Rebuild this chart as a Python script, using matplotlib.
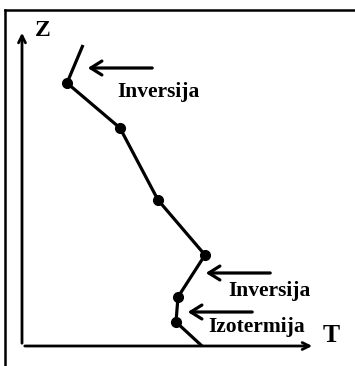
import matplotlib
matplotlib.use("Agg")
import matplotlib.pyplot as plt
from matplotlib.lines import Line2D

# temperature profile T(Z), arbitrary units (origin at axis corner)
temp = [18.0, 15.4, 15.6, 18.3, 13.6, 9.8, 4.5, 6.1]
height = [0.0, 2.4, 4.9, 9.1, 14.6, 21.8, 26.3, 30.1]

# labelled layers: (text, arrow tail, arrow tip, text position)
labels = ["Inversija", "Inversija", "Izotermija"]
arrow_tail = [(13.3, 27.8), (25.1, 7.3), (23.3, 3.4)]
arrow_tip = [(6.3, 27.8), (18.1, 7.3), (16.3, 3.4)]
text_pos = [(9.5, 25.4), (20.6, 5.5), (18.6, 1.9)]

fig = plt.figure(figsize=(3.55, 3.66), dpi=100)
ax = fig.add_axes([0, 0, 1, 1])
ax.set_xlim(-2.2, 33.3)
ax.set_ylim(-2.0, 34.6)
ax.axis("off")

font = dict(family="Liberation Serif", fontweight="bold", color="black")

# frame (top and left edges only)
fig.add_artist(Line2D([5 / 355, 1], [1 - 10 / 366, 1 - 10 / 366],
                      transform=fig.transFigure, color="black", lw=1.8))
fig.add_artist(Line2D([5 / 355, 5 / 355], [0, 1 - 10 / 366],
                      transform=fig.transFigure, color="black", lw=1.8))

# axes with arrows
arrow_kw = dict(arrowstyle="->,head_length=0.5,head_width=0.25", color="black", lw=2)
ax.annotate("", xy=(0, 31.6), xytext=(0, 0), arrowprops=arrow_kw)
ax.annotate("", xy=(29.3, 0), xytext=(0, 0), arrowprops=arrow_kw)
ax.text(2.1, 31.6, "Z", ha="center", va="center", fontsize=17, **font)
ax.text(30.9, 1.1, "T", ha="center", va="center", fontsize=18.5, **font)

# profile
ax.plot(temp, height, color="black", lw=2.3, solid_capstyle="butt")
ax.plot(temp[1:-1], height[1:-1], "o", color="black", ms=7)

# layer annotations
for lab, tail, tip, pos in zip(labels, arrow_tail, arrow_tip, text_pos):
    ax.annotate("", xy=tip, xytext=tail,
                arrowprops=dict(arrowstyle="->,head_length=0.8,head_width=0.5",
                                color="black", lw=2.3))
    ax.text(pos[0], pos[1], lab, ha="left", va="center", fontsize=15.5, **font)

fig.savefig("out.png", dpi=100)
